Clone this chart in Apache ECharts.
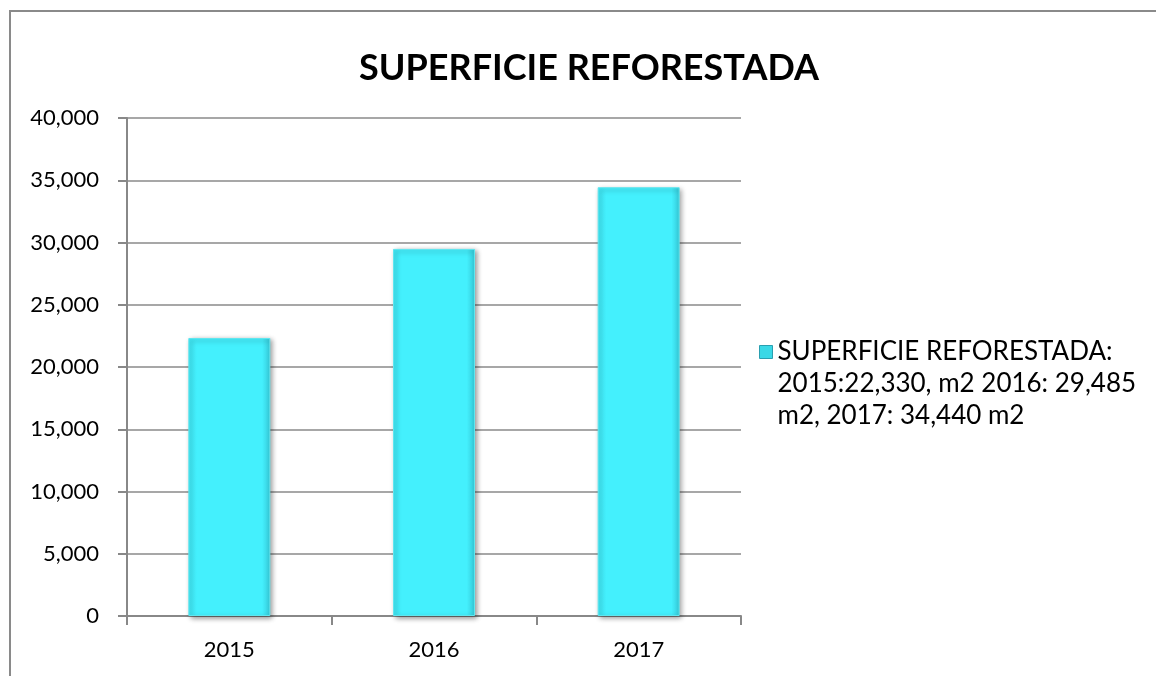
<!DOCTYPE html>
<html>
<head>
<meta charset="utf-8">
<script src="https://cdn.jsdelivr.net/npm/echarts@6/dist/echarts.min.js"></script>
<style>
  html, body { margin: 0; padding: 0; background: #fff; }
  #chart { width: 1156px; height: 676px; }
</style>
</head>
<body>
<div id="chart"></div>
<script>
const years = ["2015", "2016", "2017"]
const superficie = [22330, 29485, 34440]
const seriesName = "SUPERFICIE REFORESTADA: 2015:22,330, m2 2016: 29,485 m2, 2017: 34,440 m2"
const legendLines = ["SUPERFICIE REFORESTADA:", "2015:22,330, m2 2016: 29,485", "m2, 2017: 34,440 m2"]

const font = "Lato, 'Open Sans', sans-serif"
const myChart = echarts.init(document.getElementById("chart"))

myChart.setOption({
  animation: false,
  backgroundColor: "#fff",
  title: {
    text: "SUPERFICIE REFORESTADA",
    left: 584,
    top: 45,
    textAlign: "center",
    textStyle: { fontFamily: font, fontSize: 36, fontWeight: "bold", color: "#000" }
  },
  graphic: [
    {
      type: "rect",
      shape: { x: 10, y: 11, width: 1300, height: 800 },
      style: { fill: "none", stroke: "#8a8a8a", lineWidth: 2 },
      silent: true
    }
  ],
  legend: {
    left: 754,
    top: 267,
    icon: "rect",
    itemWidth: 13,
    itemHeight: 13,
    itemGap: 5,
    // two empty lines first so the icon sits beside the first text line
    formatter: () => "\n\n" + legendLines.join("\n"),
    textStyle: {
      fontFamily: font,
      fontSize: 26,
      color: "#000",
      lineHeight: 32
    },
    itemStyle: { color: "#3ad8e6", borderColor: "#2a9fb0", borderWidth: 1 }
  },
  grid: { left: 127, right: 415, top: 118, bottom: 60 },
  xAxis: {
    type: "category",
    data: years,
    axisLine: { lineStyle: { color: "#888", width: 2 } },
    axisTick: { show: true, length: 9, lineStyle: { color: "#888", width: 2 } },
    axisLabel: { margin: 23, fontFamily: font, fontSize: 22, color: "#000" }
  },
  yAxis: {
    type: "value",
    min: 0,
    max: 40000,
    interval: 5000,
    axisLine: { show: true, lineStyle: { color: "#888", width: 2 } },
    axisTick: { show: true, length: 9, lineStyle: { color: "#888", width: 2 } },
    splitLine: { lineStyle: { color: "#8a8a8a", width: 1.5 } },
    axisLabel: {
      margin: 28,
      fontFamily: font,
      fontSize: 22,
      color: "#000",
      formatter: (v) => v.toLocaleString("en-US")
    }
  },
  series: [
    {
      name: seriesName,
      type: "bar",
      data: superficie,
      barWidth: 82,
      itemStyle: {
        color: {
          type: "linear", x: 0, y: 0, x2: 1, y2: 0,
          colorStops: [
            { offset: 0, color: "#3ee6f4" },
            { offset: 0.1, color: "#44f0fd" },
            { offset: 0.9, color: "#44f0fd" },
            { offset: 1, color: "#35c9d8" }
          ]
        },
        borderColor: "#5fe6ef",
        borderWidth: 1,
        shadowColor: "rgba(0,0,0,0.4)",
        shadowBlur: 5,
        shadowOffsetX: 2,
        shadowOffsetY: 2
      }
    }
  ]
})

window.addEventListener("resize", () => {
  myChart.resize()
})
</script>
</body>
</html>
